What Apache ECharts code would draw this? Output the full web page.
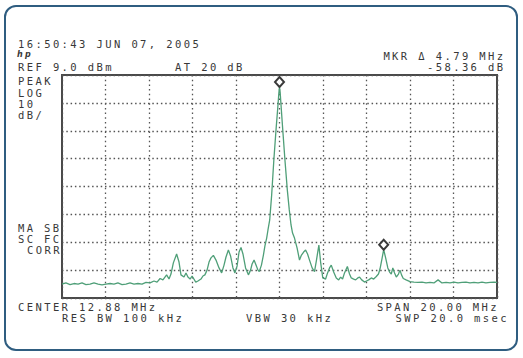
<!DOCTYPE html>
<html><head><meta charset="utf-8">
<script src="https://cdn.jsdelivr.net/npm/echarts@6/dist/echarts.min.js"></script>
<style>
html,body{margin:0;padding:0;background:#fff;}
#c{width:523px;height:358px;}
#c text{letter-spacing:2.4px;}
</style></head><body><div id="c"></div>
<script>
// Spectrum trace: frequency (MHz) and level (dBm)
const freqMHz = [
 2.88,3.06,3.25,3.43,3.62,3.80,3.98,4.17,4.35,4.54,4.72,4.90,5.09,5.27,5.45,5.64,5.82,6.01,6.19,6.37,6.56,6.74,6.93,
 7.11,7.25,7.39,7.52,7.69,7.80,7.89,8.00,8.15,8.26,8.35,8.49,8.58,8.67,8.77,8.86,9.03,9.13,9.27,9.36,9.45,9.55,9.64,
 9.73,9.84,9.96,10.10,10.22,10.33,10.42,10.53,10.63,10.74,10.83,10.93,11.02,11.11,11.20,11.32,11.45,11.55,11.62,11.71,
 11.80,11.89,11.95,12.05,12.14,12.21,12.29,12.35,12.43,12.52,12.62,12.72,12.81,12.85,12.88,12.91,12.95,13.03,13.13,
 13.24,13.33,13.41,13.48,13.57,13.69,13.80,13.89,13.99,14.08,14.17,14.26,14.38,14.49,14.58,14.69,14.77,14.87,15.00,
 15.09,15.18,15.26,15.37,15.49,15.60,15.69,15.78,15.87,16.00,16.10,16.18,16.29,16.38,16.48,16.56,16.66,16.79,16.88,
 16.98,17.10,17.21,17.33,17.43,17.50,17.60,17.67,17.76,17.86,17.94,18.02,18.09,18.17,18.25,18.35,18.42,18.49,18.57,
 18.70,18.88,19.06,19.25,19.43,19.62,19.80,19.98,20.17,20.35,20.54,20.72,20.90,21.09,21.27,21.45,21.64,21.82,22.01,
 22.19,22.37,22.56,22.74,22.88
];
const levelDbm = [
 -66.0,-65.6,-66.2,-65.8,-66.0,-65.6,-66.2,-66.0,-65.6,-66.0,-66.3,-66.0,-65.8,-66.0,-65.6,-66.2,-66.0,-65.6,-66.0,-65.8,-66.0,-65.4,-65.6,
 -64.9,-65.3,-64.0,-64.5,-62.7,-64.2,-62.4,-58.4,-55.2,-58.1,-62.7,-63.5,-62.0,-63.5,-64.2,-63.1,-65.3,-64.9,-64.2,-63.1,-62.7,-61.0,-58.1,
 -56.6,-55.7,-57.4,-60.2,-62.0,-59.2,-56.3,-53.8,-55.9,-60.2,-62.0,-59.5,-54.5,-52.9,-55.2,-60.2,-62.7,-61.0,-58.8,-57.4,
 -59.2,-61.0,-61.5,-59.2,-55.6,-52.3,-49.5,-46.6,-43.0,-34.0,-21.5,-10.7,-1.8,2.5,4.7,2.9,-1.8,-10.7,-21.5,
 -32.3,-39.4,-44.8,-47.7,-49.5,-53.1,-57.4,-55.6,-54.5,-53.8,-55.2,-57.4,-60.2,-61.5,-57.4,-52.0,-58.1,-63.8,-64.2,
 -62.0,-60.2,-59.2,-61.7,-63.8,-64.5,-63.5,-64.2,-62.0,-59.7,-62.4,-63.8,-64.2,-64.5,-63.8,-63.5,-64.5,-65.3,-64.9,
 -64.5,-63.8,-64.2,-63.3,-62.4,-60.6,-56.6,-53.66,-56.6,-60.2,-61.7,-62.4,-60.2,-62.0,-63.5,-62.4,-61.0,-62.7,-64.0,
 -64.5,-65.1,-65.3,-65.4,-65.3,-65.6,-65.4,-65.6,-64.5,-65.6,-65.4,-65.6,-65.3,-65.6,-65.4,-65.3,-65.6,-65.4,-65.6,
 -65.3,-65.6,-65.4,-65.3,-65.4
];
// Marker frequencies (MHz)
const markerFreqs = [12.88, 17.67];
// Screen settings
const centerMHz = 12.88, spanMHz = 20, refDbm = 9.0, dbPerDiv = 10, hDivs = 10, vDivs = 8;

const trace = freqMHz.map((f, i) => [f, levelDbm[i]]);
const markers = markerFreqs.map(f => {
  const i = freqMHz.indexOf(f);
  return { coord: [f, levelDbm[i]] };
});

const FONT = '10.5px "DejaVu Sans Mono", monospace';
const TXT = '#383838';
function t(text, x, y, align, font) {
  return {
    type: 'text', x: x, y: y, silent: true,
    style: { text: text, font: font || FONT, fill: TXT, align: align || 'left', verticalAlign: 'middle',
             textAlign: align || 'left', textVerticalAlign: 'middle' }
  };
}

const chart = echarts.init(document.getElementById('c'), null, { renderer: 'svg' });
chart.setOption({
  animation: false,
  backgroundColor: '#fff',
  grid: { left: 62, top: 75, width: 435, height: 223, show: true, borderColor: '#4a4a4a', borderWidth: 2, backgroundColor: 'transparent' },
  xAxis: {
    type: 'value', min: centerMHz - spanMHz / 2, max: centerMHz + spanMHz / 2, interval: spanMHz / hDivs,
    axisLine: { show: false }, axisTick: { show: false }, axisLabel: { show: false },
    splitLine: { show: true, lineStyle: { color: '#555', width: 1.3, type: [1.5, 3.2] } }
  },
  yAxis: {
    type: 'value', min: refDbm - dbPerDiv * vDivs, max: refDbm, interval: dbPerDiv,
    axisLine: { show: false }, axisTick: { show: false }, axisLabel: { show: false },
    splitLine: { show: true, lineStyle: { color: '#555', width: 1.3, type: [1.5, 2.8] } }
  },
  series: [{
    type: 'line', data: trace, showSymbol: false, symbol: 'none',
    lineStyle: { color: '#4f9f78', width: 1.3 },
    markPoint: {
      symbol: 'diamond', symbolSize: [9, 10], symbolOffset: [0, -5],
      itemStyle: { color: '#fff', borderColor: '#3a3a3a', borderWidth: 2 },
      label: { show: false },
      data: markers
    }
  }],
  graphic: [
    { type: 'rect', silent: true, z: -1, shape: { x: 5, y: 6, width: 512, height: 344, r: 11 },
      style: { fill: 'none', stroke: '#2f5d80', lineWidth: 2 } },
    t('16:50:43 JUN 07, 2005', 18, 44),
    t('hp', 17, 54.5, 'left', 'italic bold 8px "DejaVu Sans", sans-serif'),
    t('REF 9.0 dBm', 18, 67),
    t('AT 20 dB', 175, 67),
    t('MKR \u0394 4.79 MHz', 505.5, 55.5, 'right'),
    t('-58.36 dB', 505.5, 67, 'right'),
    t('PEAK', 18, 81),
    t('LOG', 18, 93),
    t('10', 18, 104),
    t('dB/', 18, 115),
    t('MA', 18, 228), t('SB', 44, 228),
    t('SC', 18, 239), t('FC', 44, 239),
    t('CORR', 27, 250),
    t('CENTER 12.88 MHz', 18, 307),
    t('SPAN 20.00 MHz', 499, 307, 'right'),
    t('RES BW 100 kHz', 62, 318),
    t('VBW 30 kHz', 246, 318),
    t('SWP 20.0 msec', 509, 318, 'right')
  ]
});
</script></body></html>
